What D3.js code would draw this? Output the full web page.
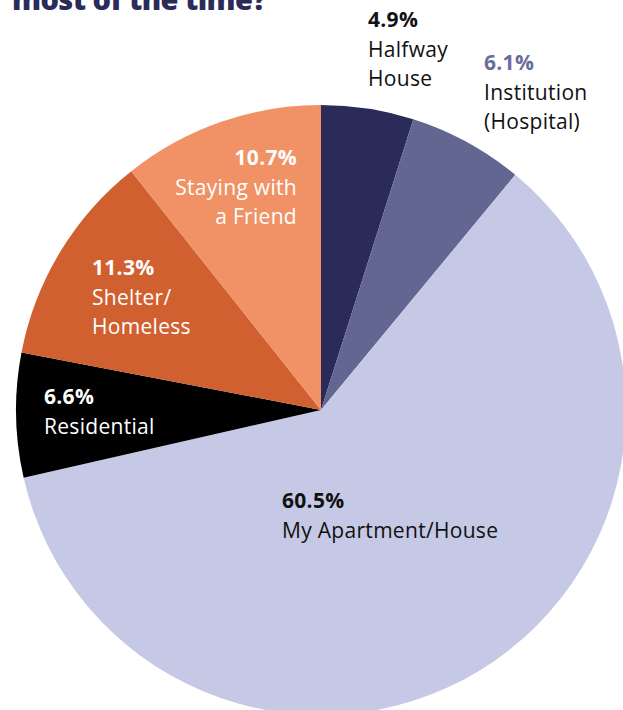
<!DOCTYPE html>
<html lang="en">
<head>
    <meta charset="UTF-8">
    <title>Where do you live most of the time?</title>
    <script src="https://d3js.org/d3.v7.min.js"></script>
    <style>
        body { margin: 0; background: #fff; overflow: hidden; }
        svg { display: block; font-family: "Open Sans", Lato, sans-serif; }
    </style>
</head>
<body>
    <div id="chart"></div>
    <script>
        // data, clockwise from 12 o'clock
        var categories = ["Halfway House", "Institution (Hospital)", "My Apartment/House", "Residential", "Shelter/Homeless", "Staying with a Friend"];
        var values = [4.9, 6.1, 60.5, 6.6, 11.3, 10.7];
        var labelLines = [["Halfway", "House"], ["Institution", "(Hospital)"], ["My Apartment/House"], ["Residential"], ["Shelter/", "Homeless"], ["Staying with", "a Friend"]];
        var colors = ["#2b2b5a", "#636690", "#c5c9e6", "#000000", "#d06030", "#f09265"];

        // label placement (x, y of percent baseline, anchor, colours)
        var labelLayout = [
            {x: 368, y: 27, anchor: "start", pct: "#111", txt: "#111"},
            {x: 484, y: 70, anchor: "start", pct: "#6a6d9c", txt: "#111"},
            {x: 282, y: 508, anchor: "start", pct: "#111", txt: "#111"},
            {x: 44, y: 404, anchor: "start", pct: "#fff", txt: "#fff"},
            {x: 92, y: 275, anchor: "start", pct: "#fff", txt: "#fff"},
            {x: 297, y: 165, anchor: "end", pct: "#fff", txt: "#fff"}
        ];

        var width = 623, height = 710,
            cx = 321, cy = 410, radius = 305, lineH = 29.5;

        var svg = d3.select("#chart").append("svg")
            .attr("width", width)
            .attr("height", height);

        svg.append("text")
            .attr("x", 12)
            .attr("y", 10)
            .attr("fill", "#2b2b5a")
            .attr("textLength", 255)
            .style("font-size", "29px")
            .style("font-weight", "800")
            .text("most of the time?");

        var pie = d3.pie().sort(null).value(d => d)(values);
        var arc = d3.arc().innerRadius(0).outerRadius(radius);

        var g = svg.append("g").attr("transform", "translate(" + cx + "," + cy + ")");
        g.selectAll("path")
            .data(pie).enter().append("path")
            .attr("d", arc)
            .attr("fill", (d, i) => colors[i]);

        // labels
        labelLayout.forEach(function(p, i) {
            var t = svg.append("text")
                .attr("text-anchor", p.anchor)
                .style("font-size", "21px")
                .style("letter-spacing", "0.3px");
            t.append("tspan")
                .attr("x", p.x).attr("y", p.y)
                .attr("fill", p.pct)
                .style("font-weight", "bold")
                .text(values[i].toFixed(1) + "%");
            labelLines[i].forEach(function(line, j) {
                t.append("tspan")
                    .attr("x", p.x).attr("y", p.y + lineH * (j + 1))
                    .attr("fill", p.txt)
                    .text(line);
            });
        });
    </script>
</body>
</html>
